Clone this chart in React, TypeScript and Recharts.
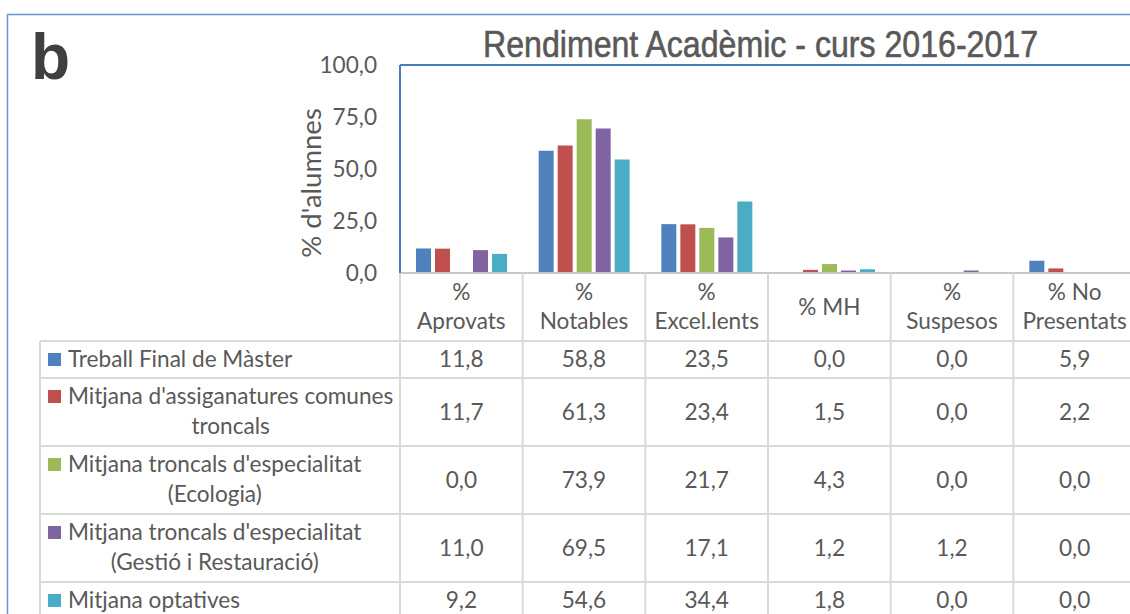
import React from 'react';
import { BarChart, Bar, XAxis, YAxis, ReferenceLine } from 'recharts';

// categories (table columns) and their header lines
const categories = ['% Aprovats', '% Notables', '% Excel.lents', '% MH', '% Suspesos', '% No Presentats'];
const headerLines = [['%', 'Aprovats'], ['%', 'Notables'], ['%', 'Excel.lents'], ['% MH'], ['%', 'Suspesos'], ['% No', 'Presentats']];

// series (table rows)
const seriesNames = [
  'Treball Final de Màster',
  "Mitjana d'assiganatures comunes troncals",
  "Mitjana troncals d'especialitat (Ecologia)",
  "Mitjana troncals d'especialitat (Gestió i Restauració)",
  'Mitjana optatives',
];
const seriesLabelLines = [
  ['Treball Final de Màster'],
  ["Mitjana d'assiganatures comunes", 'troncals'],
  ["Mitjana troncals d'especialitat", '(Ecologia)'],
  ["Mitjana troncals d'especialitat", '(Gestió i Restauració)'],
  ['Mitjana optatives'],
];
const seriesColors = ['#4F81BD', '#C0504D', '#9BBB59', '#8064A2', '#4BACC6'];

const treballFinal = [11.8, 58.8, 23.5, 0.0, 0.0, 5.9];
const comunesTroncals = [11.7, 61.3, 23.4, 1.5, 0.0, 2.2];
const ecologia = [0.0, 73.9, 21.7, 4.3, 0.0, 0.0];
const gestioRestauracio = [11.0, 69.5, 17.1, 1.2, 1.2, 0.0];
const optatives = [9.2, 54.6, 34.4, 1.8, 0.0, 0.0];

const yTicks = [0, 25, 50, 75, 100];

const seriesValues = [treballFinal, comunesTroncals, ecologia, gestioRestauracio, optatives];

const data = categories.map((cat, i) => {
  const row: Record<string, string | number> = { cat };
  seriesValues.forEach((vals, s) => {
    row['s' + s] = vals[i];
  });
  return row;
});

// layout
const W = 1150;
const H = 640;
const PLOT_LEFT = 400;
const PLOT_TOP = 65;
const PLOT_BOTTOM = 273;
const PLOT_W = 736;
const BAND = PLOT_W / categories.length;
const TABLE_LEFT = 40;
const KEY_X = 48;
const LABEL_X = 68;
const HEADER_H = 68;
const LINE_H = 30;
const FONT = 'Lato, "Open Sans", sans-serif';
const FS = 22.6;
const TEXT = '#595959';
const GRID = '#d9d9d9';

const fmt = (v: number) => v.toFixed(1).replace('.', ',');
const rowH = (s: number) => (seriesLabelLines[s].length > 1 ? 68 : 37);
const rowTop = (s: number) => {
  let t = HEADER_H;
  for (let k = 0; k < s; k++) t += rowH(k);
  return t;
};

let ctx: CanvasRenderingContext2D | null = null;
const textWidth = (t: string) => {
  if (!ctx) ctx = document.createElement('canvas').getContext('2d');
  if (!ctx) return t.length * FS * 0.5;
  ctx.font = `${FS}px Lato`;
  return ctx.measureText(t).width;
};

const Txt = ({ x, cy, anchor = 'middle', children }: any) => (
  <text x={x} y={cy + FS * 0.35} textAnchor={anchor} fill={TEXT} fontFamily={FONT} fontSize={FS}>
    {children}
  </text>
);

function TableTick(props: any) {
  const { x, y, index } = props;
  const left = x - BAND / 2;
  const right = x + BAND / 2;
  const lines = headerLines[index];
  const bottom = H;
  const parts: React.ReactNode[] = [];

  parts.push(<line key="vl" x1={left} x2={left} y1={y} y2={bottom} stroke={GRID} strokeWidth={2} />);
  if (index === categories.length - 1) {
    parts.push(<line key="vr" x1={right} x2={right} y1={y} y2={bottom} stroke={GRID} strokeWidth={2} />);
  }
  lines.forEach((l, k) => {
    const cy = lines.length === 1 ? y + 34 : y + 19.5 + k * 29;
    parts.push(<Txt key={'h' + k} x={x} cy={cy}>{l}</Txt>);
  });
  seriesValues.forEach((vals, s) => {
    const top = y + rowTop(s);
    parts.push(<line key={'r' + s} x1={left} x2={right} y1={top} y2={top} stroke={GRID} strokeWidth={2} />);
    parts.push(<Txt key={'v' + s} x={x} cy={top + rowH(s) / 2}>{fmt(vals[index])}</Txt>);
  });

  if (index === 0) {
    parts.push(<line key="tl" x1={TABLE_LEFT} x2={TABLE_LEFT} y1={y + HEADER_H} y2={bottom} stroke={GRID} strokeWidth={2} />);
    seriesLabelLines.forEach((ls, s) => {
      const top = y + rowTop(s);
      parts.push(<line key={'lr' + s} x1={TABLE_LEFT} x2={left} y1={top} y2={top} stroke={GRID} strokeWidth={2} />);
      parts.push(<rect key={'k' + s} x={KEY_X} y={top + 18.5 - 6.5} width={13} height={13} fill={seriesColors[s]} />);
      const w0 = textWidth(ls[0]);
      ls.forEach((l, k) => (
        parts.push(
          k === 0 ? (
            <Txt key={'l' + s + k} x={LABEL_X} cy={top + 18.5} anchor="start">{l}</Txt>
          ) : (
            <Txt key={'l' + s + k} x={LABEL_X + w0 / 2} cy={top + 18.5 + LINE_H * k}>{l}</Txt>
          )
        )
      ));
    });
  }
  return <g>{parts}</g>;
}

export default function App() {
  return (
    <div style={{ position: 'fixed', left: 0, top: 0, width: 1130, height: 614, overflow: 'hidden', background: '#fff' }}>
      <div style={{ position: 'absolute', left: 0, top: 0 }}>
        <BarChart
          width={W}
          height={H}
          data={data}
          margin={{ top: PLOT_TOP, right: W - PLOT_LEFT - PLOT_W, left: 0, bottom: 0 }}
          barCategoryGap={16}
          barGap={4}
        >
          <XAxis
            dataKey="cat"
            height={H - PLOT_BOTTOM}
            interval={0}
            tickLine={false}
            tickSize={0}
            tickMargin={0}
            axisLine={{ stroke: '#c8c8c8', strokeWidth: 2 }}
            tick={<TableTick />}
          />
          <YAxis
            width={PLOT_LEFT}
            domain={[0, 100]}
            ticks={yTicks}
            tickFormatter={fmt}
            tickLine={false}
            tickSize={0}
            tickMargin={23}
            axisLine={{ stroke: '#4a7dbd', strokeWidth: 2 }}
            tick={{ fill: TEXT, fontSize: FS, fontFamily: FONT }}
          />
          <ReferenceLine y={100} stroke="#4a7dbd" strokeWidth={2} />
          {seriesNames.map((name, s) => (
            <Bar key={name} name={name} dataKey={'s' + s} fill={seriesColors[s]} isAnimationActive={false} />
          ))}
        </BarChart>
      </div>
      <svg width={1130} height={614} style={{ position: 'absolute', left: 0, top: 0, pointerEvents: 'none' }}>
        <rect x={7.5} y={14.5} width={1200} height={700} fill="none" stroke="#6a95cf" strokeWidth={1.5} />
        <text x={31} y={79} fill="#404040" fontFamily='"Liberation Sans", Arial, sans-serif' fontWeight="bold" fontSize={64}>
          b
        </text>
        <text
          x={760.5}
          y={57}
          textAnchor="middle"
          fill={TEXT}
          stroke={TEXT}
          strokeWidth={0.6}
          fontFamily='"Liberation Sans Narrow", "Liberation Sans", sans-serif'
          fontSize={36.5}
          textLength={555}
          lengthAdjust="spacingAndGlyphs"
        >
          Rendiment Acadèmic - curs 2016-2017
        </text>
        <text
          transform="translate(321, 183) rotate(-90)"
          textAnchor="middle"
          fill={TEXT}
          fontFamily={FONT}
          fontSize={27.5}
        >
          % d'alumnes
        </text>
      </svg>
    </div>
  );
}
